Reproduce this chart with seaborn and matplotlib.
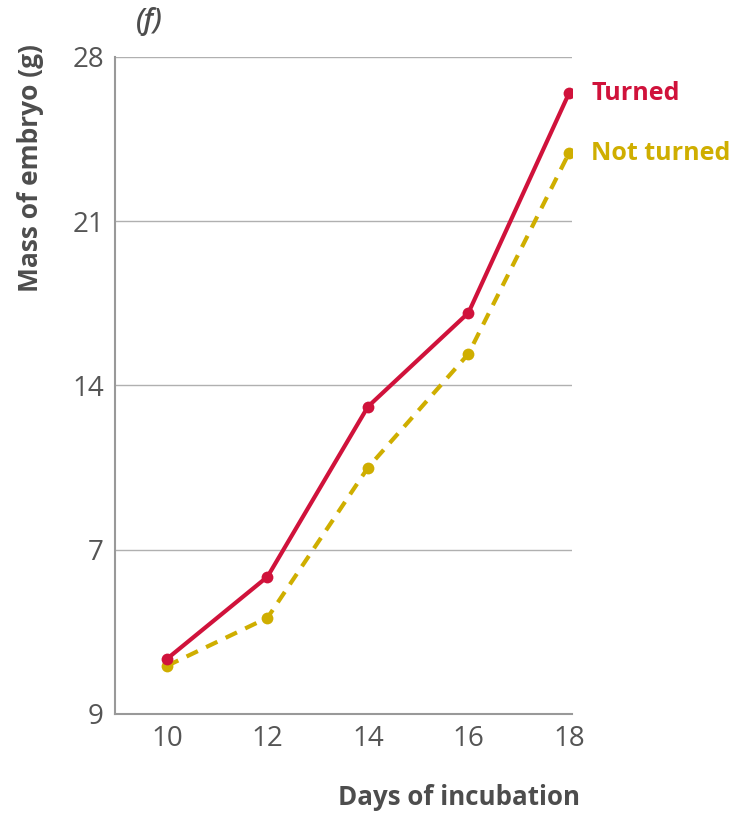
import matplotlib
matplotlib.use("Agg")
import matplotlib.pyplot as plt
import seaborn as sns
import pandas as pd

days = [10, 12, 14, 16, 18]
turned = [2.35, 5.85, 13.1, 17.1, 26.45]
not_turned = [2.05, 4.1, 10.5, 15.35, 23.9]
series_names = ["Turned", "Not turned"]
y_ticks = [0, 7, 14, 21, 28]
y_ticklabels = ["9", "7", "14", "21", "28"]
x_ticks = [10, 12, 14, 16, 18]

sns.set_theme(style="white")
plt.rcParams['font.family'] = ['Open Sans', 'DejaVu Sans']

df = pd.DataFrame({
    "day": days * 2,
    "mass": turned + not_turned,
    "series": [series_names[0]] * len(days) + [series_names[1]] * len(days),
})

RED = "#d0123b"
YEL = "#cfae00"
GRAY = "#555555"

fig = plt.figure(figsize=(7.43, 8.13), dpi=100)
ax = fig.add_axes([0.1548, 0.1218, 0.615, 0.8081])

sns.lineplot(data=df, x="day", y="mass", hue="series", style="series",
             palette={series_names[0]: RED, series_names[1]: YEL},
             dashes={series_names[0]: "", series_names[1]: (3, 2.2)},
             markers={series_names[0]: "o", series_names[1]: "o"},
             markersize=8.5, markeredgewidth=0, linewidth=3, legend=False, ax=ax,
             hue_order=[series_names[1], series_names[0]])

ax.set_xlim(8.965, 18.06)
ax.set_ylim(0, 28)
ax.set_yticks(y_ticks)
ax.set_yticklabels(y_ticklabels)
ax.set_xticks(x_ticks)
ax.tick_params(axis="both", labelsize=20, colors=GRAY, length=0)
ax.tick_params(axis="y", pad=8)
ax.tick_params(axis="x", pad=8)
ax.grid(axis="y", color="#b0b0b0", linewidth=1)
ax.grid(axis="x", visible=False)
for s in ["top", "right"]:
    ax.spines[s].set_visible(False)
for s in ["left", "bottom"]:
    ax.spines[s].set_color("#999999")
    ax.spines[s].set_linewidth(1.5)
ax.set_xlabel("")
ax.set_ylabel("")

fig.text(580 / 743, 1 - 797 / 813, "Days of incubation", ha="right", va="center",
         fontsize=18.6, fontweight="bold", color="#4d4d4d")
fig.text(31 / 743, 1 - 168 / 813, "Mass of embryo (g)", rotation=90, ha="center",
         va="center", fontsize=19, fontweight="bold", color="#4d4d4d")
fig.text(149 / 743, 1 - 22 / 813, "(f)", ha="center", va="center", fontsize=20,
         style="italic", fontweight="semibold", color="#4d4d4d")

ax.annotate(series_names[0], xy=(days[-1], turned[-1]), xytext=(16, 0),
            textcoords="offset points", ha="left", va="center", fontsize=18,
            fontweight="bold", color=RED, annotation_clip=False)
ax.annotate(series_names[1], xy=(days[-1], not_turned[-1]), xytext=(16, 0),
            textcoords="offset points", ha="left", va="center", fontsize=18,
            fontweight="bold", color=YEL, annotation_clip=False)

fig.savefig("out.png", dpi=100)
